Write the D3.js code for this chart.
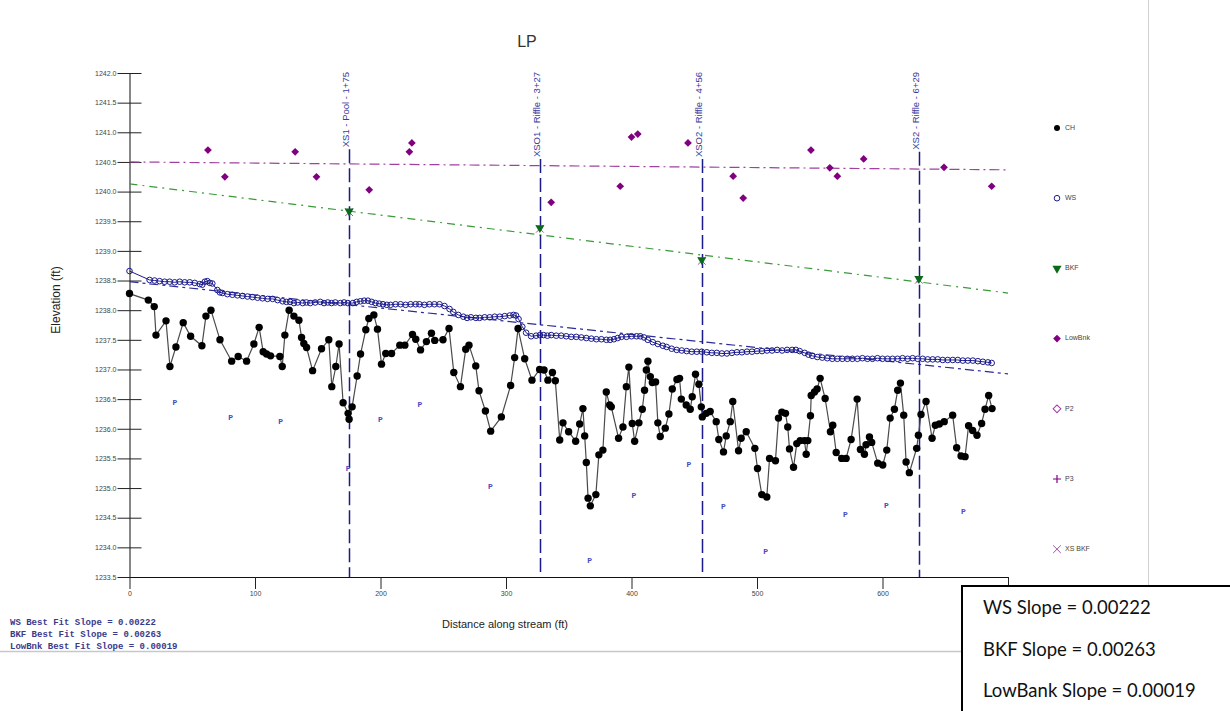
<!DOCTYPE html>
<html>
<head>
<meta charset="utf-8">
<script src="https://cdn.jsdelivr.net/npm/d3@7"></script>
<style>
  body { margin: 0; background: #fff; }
  svg { display: block; font-family: "Liberation Sans", Arial, sans-serif; }
</style>
</head>
<body>
<div id="chart"></div>
<script>
// channel bottom (CH), distance / elevation
var chData = [
  [0,1238.28],[15.0,1238.17],[19.7,1238.06],[21.1,1237.58],[29.1,1237.82],[32.2,1237.05],[37.0,1237.38],[42.8,1237.79],
  [48.7,1237.56],[57.7,1237.40],[60.9,1237.90],[64.9,1238.00],[72.1,1237.50],[81.4,1237.14],[86.6,1237.22],[93.3,1237.14],
  [99.1,1237.43],[103.3,1237.71],[106.5,1237.30],[109.2,1237.26],[112.4,1237.23],[119.8,1237.22],[121.7,1237.05],[123.8,1237.58],
  [127.2,1238.00],[131.0,1237.90],[135.0,1237.83],[137.1,1237.54],[138.9,1237.44],[141.1,1237.37],[145.9,1236.98],[153.0,1237.35],
  [158.8,1237.50],[161.2,1236.71],[164.4,1237.05],[167.0,1237.43],[170.2,1236.44],[174.2,1236.26],[175.0,1236.16],[177.4,1236.37],
  [181.4,1236.89],[184.1,1237.26],[188.3,1237.67],[190.7,1237.86],[194.7,1237.92],[197.6,1237.68],[200.8,1237.09],[204.2,1237.27],
  [208.8,1237.27],[215.4,1237.41],[219.4,1237.41],[225.5,1237.59],[228.1,1237.51],[231.9,1237.33],[236.6,1237.47],[240.6,1237.61],
  [243.2,1237.49],[249.8,1237.50],[254.6,1237.69],[258.4,1236.95],[263.7,1236.71],[267.9,1237.34],[270.5,1237.41],[275.9,1237.06],
  [278.5,1236.64],[283.6,1236.30],[287.8,1235.96],[296.3,1236.20],[303.7,1236.73],[306.9,1237.20],[309.6,1237.69],[314.9,1237.18],
  [320.7,1236.82],[326.8,1237.00],[330.3,1236.99],[333.4,1236.82],[337.0,1236.95],[339.3,1236.81],[342.8,1235.81],[345.4,1236.10],
  [349.9,1235.95],[355.5,1235.79],[358.7,1236.08],[361.3,1236.34],[362.7,1235.88],[364.0,1235.43],[365.4,1234.83],[367.2,1234.70],
  [371.6,1234.89],[374.0,1235.56],[377.2,1235.64],[379.9,1236.62],[382.6,1236.40],[383.9,1236.37],[389.7,1235.84],[393.2,1236.03],
  [395.9,1236.71],[397.9,1237.04],[400.6,1236.09],[402.5,1235.79],[405.9,1236.10],[408.6,1236.33],[410.4,1236.65],[411.8,1236.99],
  [413.1,1237.14],[415.0,1236.88],[416.6,1236.78],[419.2,1236.79],[421.0,1236.10],[422.9,1235.87],[426.9,1236.01],[429.8,1236.25],
  [432.5,1236.67],[436.2,1236.83],[438.3,1236.85],[439.7,1236.50],[443.6,1236.40],[446.8,1236.33],[448.4,1236.54],[451.0,1236.92],
  [453.7,1236.75],[455.6,1236.37],[456.4,1236.20],[459.6,1236.26],[462.7,1236.29],[467.5,1236.12],[469.6,1235.82],[473.3,1235.61],
  [475.5,1235.88],[478.7,1236.12],[480.7,1236.46],[485.3,1235.63],[487.4,1235.84],[491.4,1235.95],[498.3,1235.67],[500.4,1235.33],
  [503.8,1234.89],[507.8,1234.85],[510.0,1235.50],[514.7,1235.46],[517.1,1236.18],[519.8,1236.28],[522.7,1236.26],[524.5,1236.03],
  [525.9,1235.66],[529.1,1235.35],[531.7,1235.75],[534.4,1235.80],[537.8,1235.80],[539.2,1235.57],[540.5,1235.80],[542.6,1236.22],
  [543.2,1236.56],[545.8,1236.62],[547.9,1236.67],[550.3,1236.85],[554.3,1236.51],[558.5,1235.95],[560.4,1236.06],[563.1,1235.60],
  [567.5,1235.50],[571.0,1235.50],[575.0,1235.82],[579.8,1236.50],[582.4,1235.65],[585.6,1235.57],[586.9,1235.73],[589.6,1235.86],
  [591.4,1235.77],[596.2,1235.42],[600.2,1235.39],[603.4,1235.64],[606.1,1236.18],[609.5,1236.33],[612.1,1236.65],[614.3,1236.77],
  [616.9,1236.23],[618.8,1235.44],[621.4,1235.26],[627.2,1235.67],[628.6,1235.89],[630.7,1236.24],[634.7,1236.46],[639.5,1235.84],
  [642.1,1236.06],[645.3,1236.08],[649.2,1236.12],[655.9,1236.23],[659.1,1235.68],[662.6,1235.54],[665.8,1235.53],[668.6,1236.05],
  [671.8,1235.97],[675.3,1235.89],[679.0,1236.09],[681.7,1236.33],[684.6,1236.56],[687.3,1236.34]
];

// water surface (WS)
var wsData = [
  [0,1238.66],[16,1238.51],[20,1238.50],[24,1238.49],[28,1238.48],[32,1238.48],[36,1238.47],[40,1238.48],[44,1238.47],
  [48,1238.47],[52,1238.46],[56,1238.44],[58,1238.43],[60,1238.48],[62,1238.49],[64,1238.46],[66,1238.45],[70,1238.34],
  [72,1238.30],[74,1238.29],[78,1238.27],[82,1238.26],[86,1238.25],[90,1238.24],[94,1238.23],[98,1238.22],[102,1238.21],
  [106,1238.20],[110,1238.19],[114,1238.19],[118,1238.17],[122,1238.15],[125,1238.14],[128,1238.14],[131,1238.12],[134,1238.13],
  [138,1238.12],[141,1238.13],[144,1238.12],[148,1238.13],[152,1238.14],[155,1238.12],[158,1238.13],[161,1238.12],[164,1238.13],
  [168,1238.12],[171,1238.13],[174,1238.12],[178,1238.12],[181,1238.14],[184,1238.15],[187,1238.16],[190,1238.16],[193,1238.14],
  [196,1238.12],[199,1238.11],[202,1238.10],[205,1238.09],[208,1238.09],[212,1238.10],[216,1238.10],[220,1238.09],[224,1238.10],
  [228,1238.10],[231,1238.10],[235,1238.09],[239,1238.10],[243,1238.10],[247,1238.10],[251,1238.07],[255,1238.02],[258,1237.97],
  [262,1237.92],[266,1237.89],[269,1237.87],[272,1237.88],[276,1237.87],[279,1237.87],[283,1237.88],[287,1237.88],[291,1237.89],
  [295,1237.89],[299,1237.90],[303,1237.91],[306,1237.92],[308,1237.91],[310,1237.85],[313,1237.72],[316,1237.62],[320,1237.56],
  [324,1237.57],[327,1237.58],[330,1237.58],[333,1237.57],[336,1237.58],[340,1237.57],[344,1237.57],[348,1237.56],[352,1237.55],
  [356,1237.55],[360,1237.54],[364,1237.53],[368,1237.52],[372,1237.51],[376,1237.51],[380,1237.50],[383,1237.50],[386,1237.51],
  [389,1237.53],[392,1237.55],[396,1237.55],[400,1237.56],[404,1237.56],[407,1237.56],[410,1237.54],[413,1237.50],[417,1237.46],
  [421,1237.43],[425,1237.40],[428,1237.38],[432,1237.35],[436,1237.33],[440,1237.32],[444,1237.31],[448,1237.30],[452,1237.30],
  [456,1237.30],[460,1237.29],[464,1237.28],[468,1237.28],[472,1237.27],[476,1237.27],[480,1237.28],[484,1237.29],[488,1237.29],
  [492,1237.30],[496,1237.30],[500,1237.31],[504,1237.31],[508,1237.32],[512,1237.32],[516,1237.33],[520,1237.32],[524,1237.33],
  [528,1237.33],[531,1237.33],[534,1237.31],[538,1237.28],[541,1237.25],[544,1237.23],[548,1237.21],[552,1237.20],[556,1237.19],
  [560,1237.18],[564,1237.18],[568,1237.18],[572,1237.18],[576,1237.18],[580,1237.18],[584,1237.19],[588,1237.18],[592,1237.18],
  [596,1237.19],[600,1237.18],[604,1237.18],[608,1237.18],[612,1237.18],[616,1237.19],[620,1237.18],[624,1237.19],[628,1237.18],
  [632,1237.18],[636,1237.17],[640,1237.17],[644,1237.17],[648,1237.16],[652,1237.16],[656,1237.16],[660,1237.16],[664,1237.15],
  [668,1237.15],[672,1237.15],[676,1237.14],[680,1237.13],[684,1237.12],[687,1237.11]
];

// low bank points
var lowBnkData = [
  [62.5,1240.70],[76,1240.25],[132,1240.67],[149,1240.25],[191,1240.03],[223,1240.67],[225,1240.82],[336,1239.82],
  [391,1240.09],[400,1240.92],[405,1240.97],[445,1240.82],[481,1240.26],[489,1239.89],[543,1240.70],[558,1240.40],
  [564,1240.26],[585,1240.55],[649,1240.41],[687,1240.09]
];

// cross sections
var xsDist = [175, 327, 456, 629];
var xsNames = ["XS1 - Pool - 1+75", "XSO1 - Riffle - 3+27", "XSO2 - Riffle - 4+56", "XS2 - Riffle - 6+29"];
var bkfElev = [1239.67, 1239.39, 1238.85, 1238.53];

// pool markers "P"
var poolData = [
  [36.2,1236.43],[80.6,1236.19],[120.4,1236.11],[174.2,1235.33],[200.0,1236.15],[231.3,1236.40],[287.6,1235.02],
  [366.6,1233.77],[401.9,1234.87],[445.7,1235.39],[473.3,1234.68],[506.8,1233.92],[570.5,1234.55],[603.1,1234.70],[664.4,1234.60]
];

// best fit lines: elevation at distance 0 and slope
var fitNames = ["WS", "BKF", "LowBnk"];
var fitStart = [1238.48, 1240.13, 1240.50];
var fitSlope = [0.00222, 0.00263, 0.00019];

var xTicks = [0, 100, 200, 300, 400, 500, 600, 700];
var yTicks = d3.range(1233.5, 1242.01, 0.5);
var legendNames = ["CH", "WS", "BKF", "LowBnk", "P2", "P3", "XS BKF"];

var W = 1230, H = 711;
var svg = d3.select("#chart").append("svg").attr("width", W).attr("height", H);

var x = d3.scaleLinear().domain([0, 700]).range([129.5, 1008]);
var y = d3.scaleLinear().domain([1233.5, 1242]).range([577, 73]);

// frame lines of the page
svg.append("line").attr("x1", 0).attr("x2", 962).attr("y1", 651.5).attr("y2", 651.5)
  .attr("stroke", "#c8c8c8").attr("stroke-width", 1.5);
svg.append("line").attr("x1", 1148.5).attr("x2", 1148.5).attr("y1", 0).attr("y2", 586)
  .attr("stroke", "#d0d0d0").attr("stroke-width", 1);

// title
svg.append("text").attr("x", 527).attr("y", 47).attr("text-anchor", "middle")
  .attr("font-size", "16px").attr("fill", "#333").text("LP");

// axes
var yAxis = svg.append("g").attr("transform", "translate(129.5,0)")
  .call(d3.axisLeft(y).tickValues(yTicks).tickFormat(d3.format(".1f")).tickSize(12).tickSizeOuter(0).tickPadding(1));
yAxis.selectAll(".tick line").attr("x1", 12).attr("stroke", "#222");
yAxis.selectAll(".tick text").attr("font-size", "7px").attr("fill", "#444")
  .attr("font-family", "Liberation Sans, Arial, sans-serif");
yAxis.select(".domain").attr("stroke", "#111");

var xAxis = svg.append("g").attr("transform", "translate(0,577)")
  .call(d3.axisBottom(x).tickValues(xTicks).tickFormat(d3.format("d")).tickSize(12).tickSizeOuter(0).tickPadding(2));
xAxis.selectAll(".tick line").attr("stroke", "#222");
xAxis.selectAll(".tick text").attr("font-size", "7px").attr("fill", "#444")
  .attr("font-family", "Liberation Sans, Arial, sans-serif");
xAxis.select(".domain").attr("stroke", "#111");

svg.append("text").attr("transform", "translate(60,300) rotate(-90)").attr("text-anchor", "middle")
  .attr("font-size", "12px").attr("fill", "#222").text("Elevation (ft)");
svg.append("text").attr("x", 505).attr("y", 628).attr("text-anchor", "middle")
  .attr("font-size", "11px").attr("fill", "#222").text("Distance along stream (ft)");

// best fit lines
var fitColors = ["#2b2b9a", "#3a9a3a", "#a040a0"];
var fitDash = ["9,4,3,4", "8,5,2,5", "10,4,2,4"];
fitNames.forEach(function(n, i) {
  var d0 = x.domain()[0], d1 = x.domain()[1];
  svg.append("line")
    .attr("x1", x(d0)).attr("y1", y(fitStart[i] - fitSlope[i] * d0))
    .attr("x2", x(d1)).attr("y2", y(fitStart[i] - fitSlope[i] * d1))
    .attr("stroke", fitColors[i]).attr("stroke-width", 1.2)
    .attr("stroke-dasharray", fitDash[i]);
});

// low bank diamonds (square turned 45 degrees)
var diamond = d3.symbol().type(d3.symbolSquare).size(30);
svg.append("g").selectAll("path").data(lowBnkData).enter().append("path")
  .attr("d", diamond)
  .attr("transform", d => "translate(" + x(d[0]) + "," + y(d[1]) + ") rotate(45)")
  .attr("fill", "#800080");

// pool markers
svg.append("g").selectAll("text").data(poolData).enter().append("text")
  .attr("x", d => x(d[0])).attr("y", d => y(d[1]))
  .attr("text-anchor", "middle").attr("dominant-baseline", "middle")
  .attr("font-family", "Liberation Mono, monospace").attr("font-weight", "bold")
  .attr("font-size", "8px").attr("fill", "#4a4ac0").text("P");

// cross section lines and labels
var xsG = svg.append("g");
xsDist.forEach(function(d, i) {
  var px = Math.round(x(d)) + 0.5;
  var t = xsG.append("text")
    .attr("transform", "translate(" + (px - 1) + ",72) rotate(-90)")
    .attr("text-anchor", "end").attr("font-size", "9.5px").attr("fill", "#3a3a9a")
    .text(xsNames[i]);
  var len = t.node().getComputedTextLength();
  xsG.append("line").attr("x1", px).attr("x2", px).attr("y1", 74 + len).attr("y2", y(1233.5))
    .attr("stroke", "#1a1a8a").attr("stroke-width", 1.5).attr("stroke-dasharray", "14,5");
});

// WS line and markers
var line = d3.line().x(d => x(d[0])).y(d => y(d[1]));
svg.append("path").datum(wsData).attr("d", line)
  .attr("fill", "none").attr("stroke", "#1a1a8a").attr("stroke-width", 1);
svg.append("g").selectAll("circle").data(wsData).enter().append("circle")
  .attr("cx", d => x(d[0])).attr("cy", d => y(d[1])).attr("r", 2.8)
  .attr("fill", "none").attr("stroke", "#1a1a8a").attr("stroke-width", 1);

// CH line and markers
svg.append("path").datum(chData).attr("d", line)
  .attr("fill", "none").attr("stroke", "#4a4a4a").attr("stroke-width", 1.2);
svg.append("g").selectAll("circle").data(chData).enter().append("circle")
  .attr("cx", d => x(d[0])).attr("cy", d => y(d[1])).attr("r", 3.7)
  .attr("fill", "#000");

// BKF triangles and XS BKF crosses
var tri = d3.symbol().type(d3.symbolTriangle).size(36);
var cross = d3.symbol().type(d3.symbolX).size(40);
xsDist.forEach(function(d, i) {
  svg.append("path").attr("d", cross)
    .attr("transform", "translate(" + x(d) + "," + (y(bkfElev[i]) + 1) + ")")
    .attr("fill", "none").attr("stroke", "#a050a0").attr("stroke-width", 1);
  svg.append("path").attr("d", tri)
    .attr("transform", "translate(" + x(d) + "," + y(bkfElev[i]) + ") rotate(180)")
    .attr("fill", "#0a6a1a");
});

// legend
var lg = svg.append("g").attr("transform", "translate(1057,128)");
legendNames.forEach(function(n, i) {
  var g = lg.append("g").attr("transform", "translate(0," + (i * 70.2) + ")");
  if (n === "CH") g.append("circle").attr("r", 3).attr("fill", "#000");
  if (n === "WS") g.append("circle").attr("r", 2.8).attr("fill", "none").attr("stroke", "#1a1a8a");
  if (n === "BKF") g.append("path").attr("d", tri).attr("transform", "rotate(180)").attr("fill", "#0a6a1a");
  if (n === "LowBnk") g.append("path").attr("d", diamond).attr("transform", "rotate(45)").attr("fill", "#800080");
  if (n === "P2") g.append("path").attr("d", diamond).attr("transform", "rotate(45)").attr("fill", "none").attr("stroke", "#a040a0");
  if (n === "P3") g.append("path").attr("d", "M-4,0H4M0,-4V4").attr("stroke", "#800080").attr("stroke-width", 1.2);
  if (n === "XS BKF") g.append("path").attr("d", cross).attr("fill", "none").attr("stroke", "#a050a0");
  g.append("text").attr("x", 8).attr("y", 0).attr("dominant-baseline", "middle")
    .attr("font-size", "7px").attr("fill", "#444").text(n);
});

// best fit notes, bottom left
var notes = ["WS Best Fit Slope = 0.00222", "BKF Best Fit Slope = 0.00263", "LowBnk Best Fit Slope = 0.00019"];
svg.append("g").selectAll("text").data(notes).enter().append("text")
  .attr("x", 10).attr("y", (d, i) => 625 + i * 12)
  .attr("font-family", "Liberation Mono, monospace").attr("font-weight", "bold")
  .attr("font-size", "9px").attr("fill", "#3a3a8c").text(d => d);

// slope box, bottom right
svg.append("rect").attr("x", 962).attr("y", 586).attr("width", 280).attr("height", 140)
  .attr("fill", "#fff").attr("stroke", "#000").attr("stroke-width", 2);
var boxLines = ["WS Slope = " + fitSlope[0].toFixed(5), "BKF Slope = " + fitSlope[1].toFixed(5), "LowBank Slope = " + fitSlope[2].toFixed(5)];
svg.append("g").selectAll("text").data(boxLines).enter().append("text")
  .attr("x", 983).attr("y", (d, i) => 614 + i * 41.5)
  .attr("font-family", "Lato, sans-serif").attr("font-size", "18.5px").attr("fill", "#111")
  .text(d => d);
</script>
</body>
</html>
